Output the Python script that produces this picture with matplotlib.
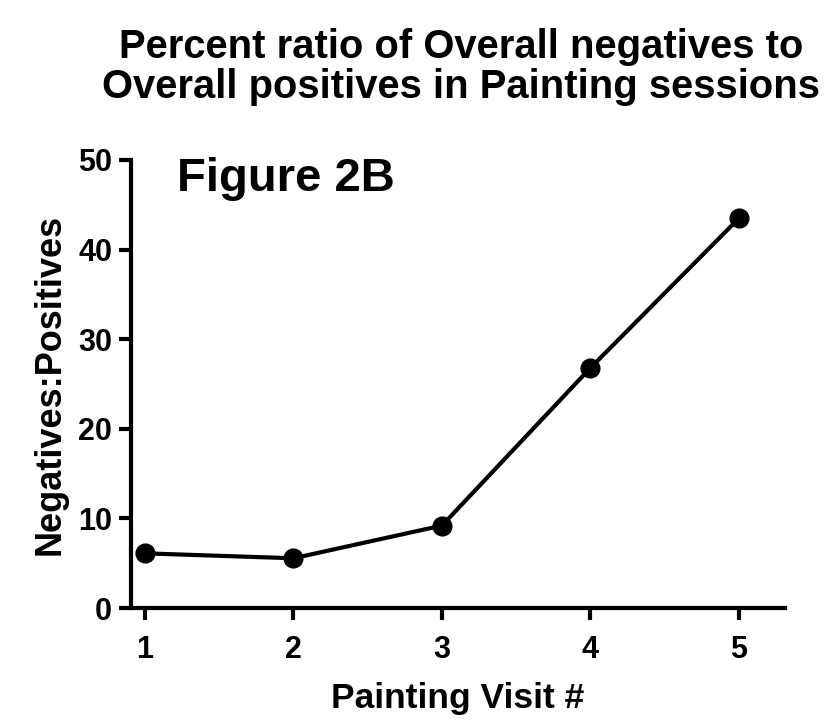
import matplotlib
matplotlib.use("Agg")
import matplotlib.pyplot as plt

plt.rcParams['font.family'] = ['Liberation Sans', 'DejaVu Sans']
plt.rcParams['font.weight'] = 'bold'

visits = [1, 2, 3, 4, 5]
ratio = [6.1, 5.55, 9.2, 26.8, 43.5]
xticks = [1, 2, 3, 4, 5]
yticks = [0, 10, 20, 30, 40, 50]

fig = plt.figure(figsize=(8.36, 7.21), dpi=100)
ax = fig.add_axes([131/836, 1-608/721, (785-131)/836, (608-160)/721])

ax.plot(visits, ratio, color='black', lw=3, marker='o', ms=13.5, clip_on=False, zorder=3)

ax.set_xlim(0.906, 5.31)
ax.set_ylim(0, 50)
ax.set_xticks(xticks)
ax.set_yticks(yticks)
for s in ['top', 'right']:
    ax.spines[s].set_visible(False)
for s in ['left', 'bottom']:
    ax.spines[s].set_linewidth(3)
ax.tick_params(width=3, length=8.5, labelsize=22)
ax.tick_params(axis='x', pad=11)
ax.tick_params(axis='y', pad=5)
for lab in ax.get_xticklabels() + ax.get_yticklabels():
    lab.set_fontweight('bold')

ax.set_xlabel('Painting Visit #', fontsize=25.5, fontweight='bold', labelpad=12)
ax.set_ylabel('Negatives:Positives', fontsize=26, fontweight='bold', labelpad=8)

fig.text(461/836, 1-67/721, 'Percent ratio of Overall negatives to\nOverall positives in Painting sessions',
         ha='center', va='center', fontsize=28.8, fontweight='bold', linespacing=1.05)
fig.text(177/836, 1-179/721, 'Figure 2B', ha='left', va='center',
         fontsize=34, fontweight='bold')

fig.savefig('out.png', dpi=100)
